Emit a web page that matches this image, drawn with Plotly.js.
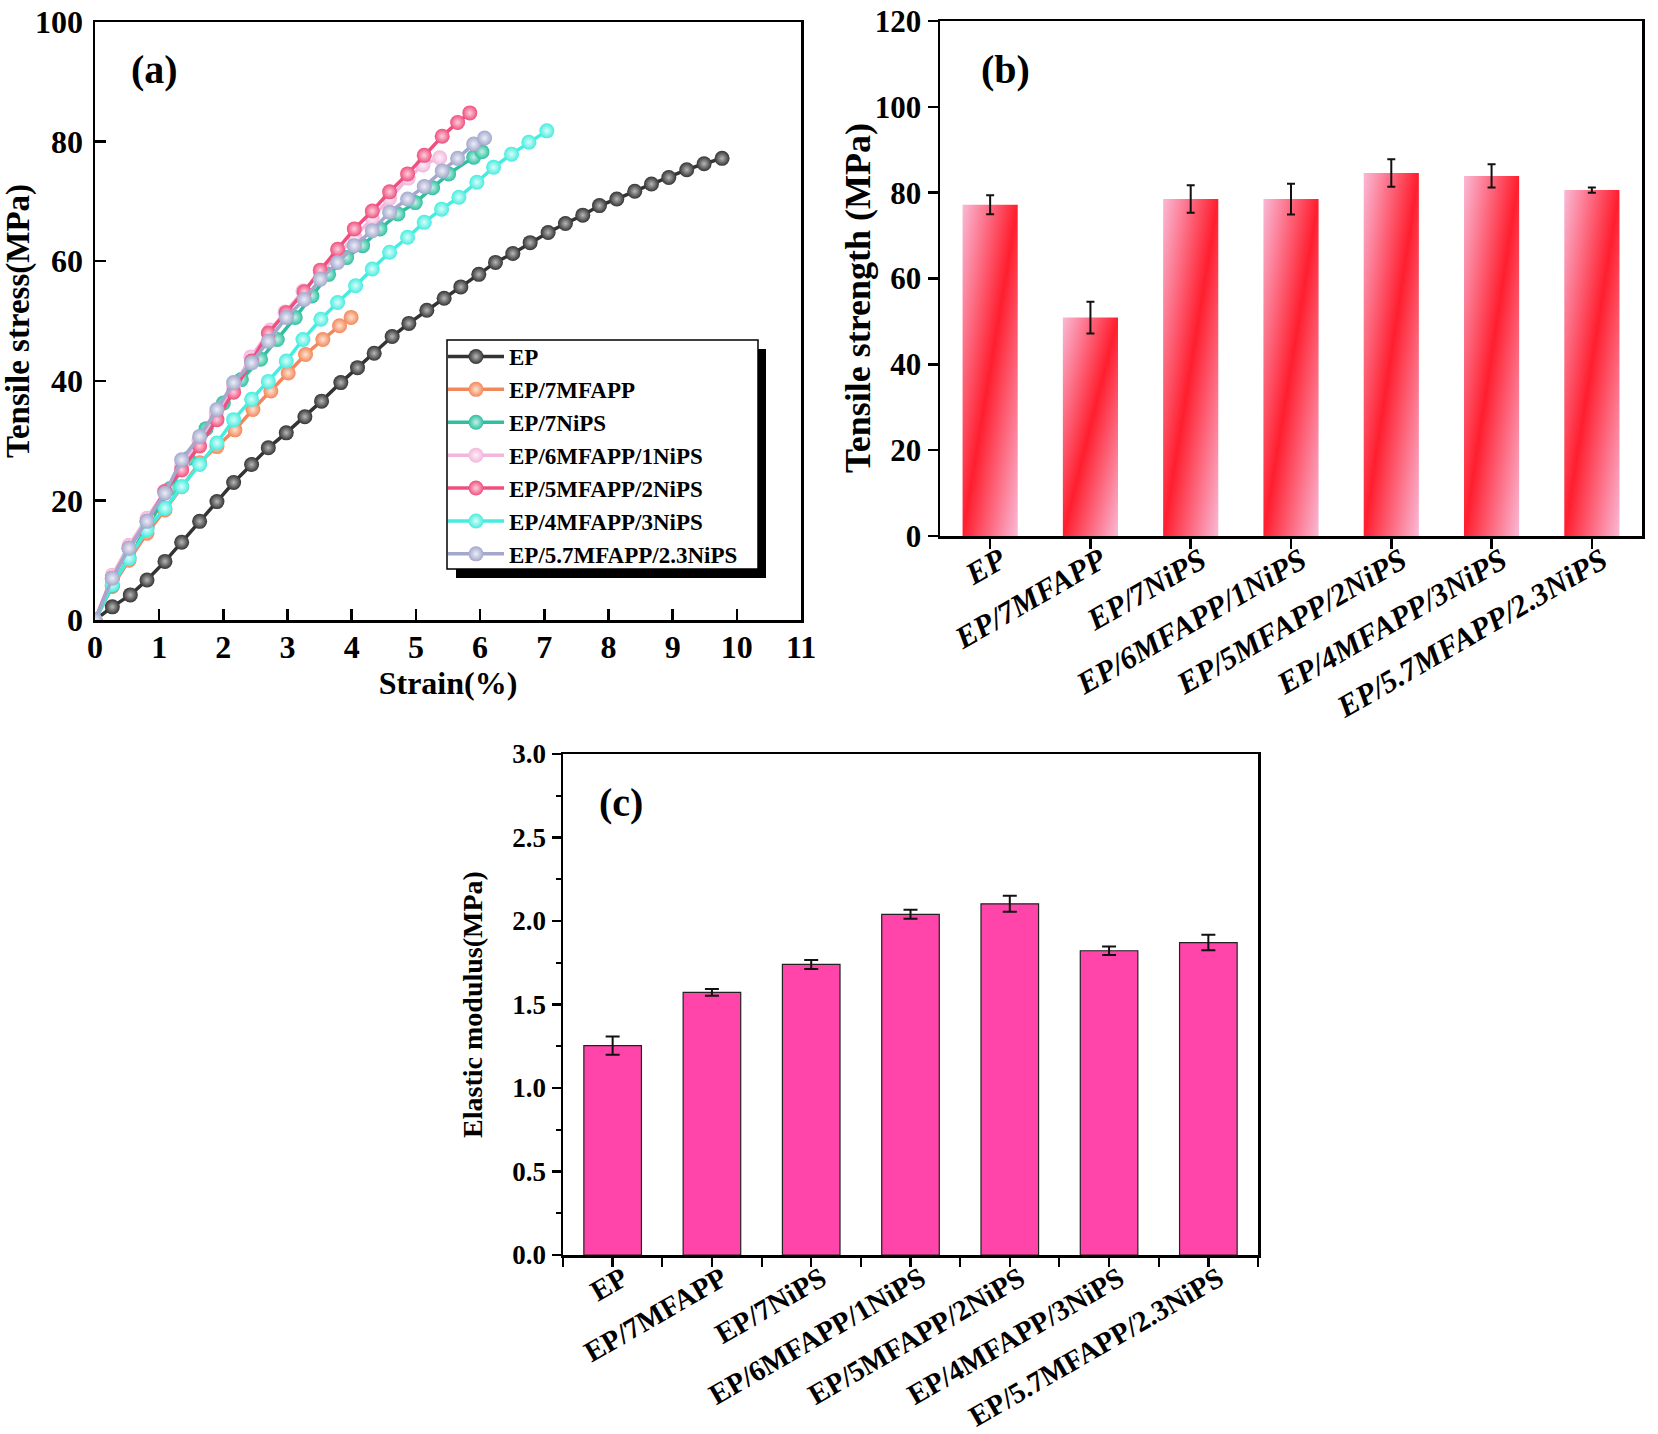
<!DOCTYPE html>
<html>
<head>
<meta charset="utf-8">
<script src="https://cdn.plot.ly/plotly-3.0.1.min.js"></script>
<style>
html,body{margin:0;padding:0;background:#fff;}
#chart{width:1658px;height:1434px;}
</style>
</head>
<body>
<div id="chart"></div>
<script>
// ---------- Panel (a): stress-strain curves ----------
const seriesNames = ["EP","EP/7MFAPP","EP/7NiPS","EP/6MFAPP/1NiPS","EP/5MFAPP/2NiPS","EP/4MFAPP/3NiPS","EP/5.7MFAPP/2.3NiPS"];

const strainEP = [0,0.27,0.55,0.81,1.09,1.35,1.63,1.90,2.16,2.44,2.70,2.98,3.27,3.53,3.83,4.09,4.35,4.63,4.89,5.17,5.44,5.70,5.98,6.24,6.51,6.78,7.06,7.33,7.60,7.86,8.13,8.41,8.67,8.94,9.22,9.49,9.77];
const stressEP = [0,2.2,4.2,6.7,9.8,13.0,16.5,19.8,23.0,26.0,28.8,31.3,34.0,36.6,39.7,42.2,44.6,47.4,49.6,51.8,53.8,55.7,57.8,59.8,61.3,63.1,64.8,66.3,67.7,69.3,70.4,71.7,72.9,74.0,75.3,76.3,77.2];

const strain7MFAPP = [0,0.27,0.53,0.81,1.09,1.35,1.63,1.90,2.18,2.46,2.74,3.01,3.28,3.55,3.81,3.99];
const stress7MFAPP = [0,5.6,10.0,14.5,18.4,22.3,26.3,29.0,31.8,35.2,38.3,41.3,44.4,46.9,49.2,50.6];

const strain7NiPS = [0,0.27,0.53,0.81,1.17,1.45,1.73,2.00,2.28,2.58,2.84,3.12,3.38,3.64,3.92,4.17,4.44,4.72,4.99,5.26,5.51,5.90,6.03];
const stress7NiPS = [0,5.8,10.5,15.5,22.0,27.0,32.0,36.3,40.2,43.6,46.9,50.6,54.2,57.8,60.6,62.6,65.4,67.9,69.8,72.3,74.6,77.4,78.3];

const strain6M1N = [0,0.27,0.53,0.81,1.08,1.35,1.62,1.89,2.16,2.43,2.73,2.96,3.24,3.51,3.78,4.05,4.32,4.59,4.88,5.11,5.37];
const stress6M1N = [0,7.5,12.5,17.0,21.5,25.8,30.0,34.5,39.0,44.0,48.5,51.5,55.0,58.0,61.0,64.0,67.2,70.5,73.9,76.1,77.3];

const strain5M2N = [0,0.27,0.53,0.81,1.09,1.35,1.63,1.90,2.16,2.44,2.70,2.98,3.26,3.51,3.78,4.04,4.32,4.59,4.87,5.13,5.41,5.65,5.84];
const stress5M2N = [0,7.0,12.0,16.5,21.5,25.1,29.1,33.5,38.1,43.3,48.0,51.4,54.9,58.5,62.0,65.4,68.4,71.6,74.6,77.7,80.9,83.2,84.8];

const strain4M3N = [0,0.27,0.53,0.81,1.09,1.35,1.63,1.90,2.16,2.44,2.70,2.98,3.24,3.52,3.78,4.06,4.32,4.59,4.87,5.13,5.40,5.67,5.95,6.21,6.49,6.76,7.04];
const stress4M3N = [0,5.9,10.3,15.1,18.7,22.3,26.0,29.6,33.5,36.9,39.9,43.3,46.9,50.3,53.1,55.9,58.7,61.5,64.0,66.5,68.7,70.7,73.2,75.7,77.9,79.9,81.8];

const strain57M23N = [0,0.27,0.53,0.81,1.09,1.35,1.63,1.90,2.16,2.44,2.70,2.98,3.26,3.51,3.78,4.04,4.32,4.59,4.87,5.13,5.41,5.65,5.90,6.07];
const stress57M23N = [0,7.0,12.0,16.5,21.2,26.8,30.7,35.2,39.7,43.0,46.6,50.6,53.6,57.0,59.8,62.6,65.1,68.2,70.4,72.5,75.1,77.2,79.6,80.6];

// ---------- Panel (b) & (c): bar data ----------
const barCategories = ["EP","EP/7MFAPP","EP/7NiPS","EP/6MFAPP/1NiPS","EP/5MFAPP/2NiPS","EP/4MFAPP/3NiPS","EP/5.7MFAPP/2.3NiPS"];
const barPositions = [0,1,2,3,4,5,6];
const tensileStrength = [77.2,50.9,78.5,78.5,84.6,83.9,80.6];
const tensileStrengthErr = [2.2,3.7,3.2,3.6,3.2,2.7,0.6];
const elasticModulus = [1.254,1.573,1.740,2.040,2.103,1.822,1.871];
const elasticModulusErr = [0.055,0.020,0.027,0.027,0.048,0.025,0.046];

// ---------- styles ----------
const lineColors = ["#333333","#f3875c","#2fbf9f","#f2b6dc","#ef4f7e","#45ede0","#a3a8cc"];
const markerCenters = ["#b8b8b8","#fde3cf","#c4f2e6","#fdf0f8","#fcd0de","#dcfcf8","#eceef6"];

const W = 1658, H = 1434;
const px = v => v / W;
const py = v => 1 - v / H;
const FONT = "Liberation Serif, Times New Roman, serif";

const curveX = [strainEP,strain7MFAPP,strain7NiPS,strain6M1N,strain5M2N,strain4M3N,strain57M23N];
const curveY = [stressEP,stress7MFAPP,stress7NiPS,stress6M1N,stress5M2N,stress4M3N,stress57M23N];

const traces = [];
for (let i = 0; i < seriesNames.length; i++) {
  traces.push({
    type: "scatter", mode: "lines+markers",
    x: curveX[i], y: curveY[i], name: seriesNames[i],
    xaxis: "x", yaxis: "y",
    line: {color: lineColors[i], width: 3.5},
    marker: {color: lineColors[i], size: 15, line: {width: 0},
             gradient: {type: "radial", color: markerCenters[i]}},
    showlegend: true
  });
}

traces.push({
  type: "bar", x: barPositions, y: tensileStrength,
  xaxis: "x2", yaxis: "y2", width: 0.55, showlegend: false,
  marker: {color: "#f86a8a", line: {width: 0}},
  error_y: {type: "data", array: tensileStrengthErr, color: "#111", thickness: 2, width: 4},
  name: "Tensile strength"
});

traces.push({
  type: "bar", x: barPositions, y: elasticModulus,
  xaxis: "x3", yaxis: "y3", width: 0.58, showlegend: false,
  marker: {color: "#ff45a9", line: {width: 1.2, color: "#222"}},
  error_y: {type: "data", array: elasticModulusErr, color: "#111", thickness: 2, width: 7},
  name: "Elastic modulus"
});

const axBase = {
  showline: true, linecolor: "#000", linewidth: 2.5, mirror: true,
  showgrid: false, zeroline: false, tickcolor: "#000", tickwidth: 2.5,
};

const layout = {
  width: W, height: H,
  margin: {l: 0, r: 0, t: 0, b: 0},
  paper_bgcolor: "#fff", plot_bgcolor: "#fff",
  font: {family: FONT, color: "#000"},
  showlegend: true,
  legend: {
    x: px(443), y: py(335), xanchor: "left", yanchor: "top",
    bgcolor: "rgba(0,0,0,0)", borderwidth: 0,
    font: {family: FONT, size: 23, weight: "bold", color: "#000"},
    itemwidth: 56, traceorder: "normal"
  },
  xaxis: Object.assign({}, axBase, {
    domain: [px(95), px(801)], anchor: "y", range: [0, 11],
    tickmode: "linear", tick0: 0, dtick: 1,
    ticks: "inside", ticklen: 11, ticklabelstandoff: -3,
    tickfont: {family: FONT, size: 32, weight: "bold"},
    title: {text: "Strain(%)", font: {family: FONT, size: 32, weight: "bold"}, standoff: 0}
  }),
  yaxis: Object.assign({}, axBase, {
    domain: [py(620), py(22)], anchor: "x", range: [0, 100],
    tickmode: "linear", tick0: 0, dtick: 20,
    ticks: "inside", ticklen: 11, ticklabelstandoff: 3,
    tickfont: {family: FONT, size: 32, weight: "bold"},
    title: {text: "Tensile stress(MPa)", font: {family: FONT, size: 33, weight: "bold"}, standoff: 2}
  }),
  xaxis2: Object.assign({}, axBase, {
    domain: [px(940), px(1642)], anchor: "y2", range: [-0.5, 6.5],
    tickmode: "array", tickvals: barPositions, ticktext: barCategories,
    tickangle: -30, ticks: "outside", ticklen: 10, ticklabelstandoff: -18, ticklabelshift: 10,
    tickfont: {family: FONT, size: 31, weight: "bold", style: "italic"}
  }),
  yaxis2: Object.assign({}, axBase, {
    domain: [py(536), py(21)], anchor: "x2", range: [0, 120],
    tickmode: "linear", tick0: 0, dtick: 20,
    ticks: "outside", ticklen: 10,
    tickfont: {family: FONT, size: 31, weight: "bold"}
  }),
  xaxis3: Object.assign({}, axBase, {
    domain: [px(563), px(1258)], anchor: "y3", range: [-0.5, 6.5],
    tickmode: "array", tickvals: barPositions, ticktext: barCategories,
    tickangle: -30, ticks: "outside", ticklen: 9, ticklabelstandoff: -16, ticklabelshift: 10,
    minor: {tickmode: "linear", tick0: 0.5, dtick: 1, ticks: "outside", ticklen: 9, tickcolor: "#000", tickwidth: 2},
    tickfont: {family: FONT, size: 29, weight: "bold"}
  }),
  yaxis3: Object.assign({}, axBase, {
    domain: [py(1255), py(754)], anchor: "x3", range: [0, 3],
    tickmode: "linear", tick0: 0, dtick: 0.5, tickformat: ".1f",
    ticks: "outside", ticklen: 9,
    minor: {dtick: 0.25, ticks: "outside", ticklen: 5, tickcolor: "#000", tickwidth: 2},
    tickfont: {family: FONT, size: 27, weight: "bold"},
    title: {text: "Elastic modulus(MPa)", font: {family: FONT, size: 28, weight: "bold"}, standoff: 22}
  }),
  shapes: [
    {type: "rect", xref: "paper", yref: "paper", x0: px(456), x1: px(766), y0: py(578), y1: py(349),
     fillcolor: "#000", line: {width: 0}, layer: "above"},
    {type: "rect", xref: "paper", yref: "paper", x0: px(447), x1: px(758), y0: py(569), y1: py(340),
     fillcolor: "#fff", line: {width: 1.5, color: "#000"}, layer: "above"}
  ],
  annotations: [
    {text: "(a)", xref: "paper", yref: "paper", x: px(154), y: py(69), xanchor: "center", yanchor: "middle",
     showarrow: false, font: {family: FONT, size: 40, weight: "bold"}},
    {text: "(b)", xref: "paper", yref: "paper", x: px(1005), y: py(70), xanchor: "center", yanchor: "middle",
     showarrow: false, font: {family: FONT, size: 40, weight: "bold"}},
    {text: "(c)", xref: "paper", yref: "paper", x: px(621), y: py(802), xanchor: "center", yanchor: "middle",
     showarrow: false, font: {family: FONT, size: 40, weight: "bold"}},
    {text: "Tensile strength (MPa)", xref: "paper", yref: "paper", x: px(858), y: py(298),
     xanchor: "center", yanchor: "middle", textangle: -90, showarrow: false,
     font: {family: FONT, size: 36, weight: "bold"}}
  ]
};

Plotly.newPlot("chart", traces, layout, {staticPlot: true, displayModeBar: false}).then(function (gd) {
  // diagonal pink-red-pink gradient fill for the panel (b) bars
  const svg = gd.querySelector("svg.main-svg");
  const ns = "http://www.w3.org/2000/svg";
  let defs = svg.querySelector("defs");
  if (!defs) { defs = document.createElementNS(ns, "defs"); svg.insertBefore(defs, svg.firstChild); }
  const lg = document.createElementNS(ns, "linearGradient");
  lg.setAttribute("id", "barGradB");
  lg.setAttribute("x1", "0"); lg.setAttribute("y1", "0");
  lg.setAttribute("x2", "1"); lg.setAttribute("y2", "1");
  [["0", "#fab9d6"], ["0.5", "#ff1e2e"], ["1", "#fab9d6"]].forEach(function (s) {
    const st = document.createElementNS(ns, "stop");
    st.setAttribute("offset", s[0]); st.setAttribute("stop-color", s[1]);
    lg.appendChild(st);
  });
  defs.appendChild(lg);
  gd.querySelectorAll(".subplot.x2y2 .barlayer .point path").forEach(function (p) {
    p.style.fill = "url(#barGradB)";
  });
});
</script>
</body>
</html>
